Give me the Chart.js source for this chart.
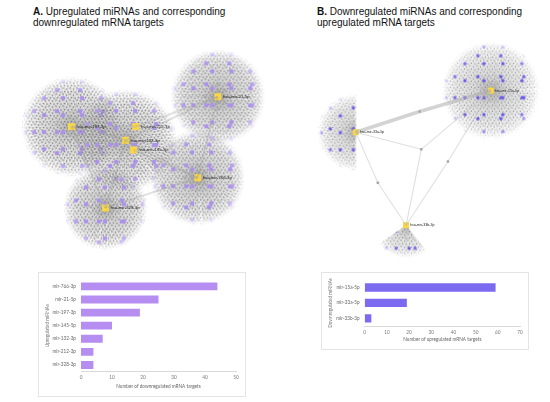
<!DOCTYPE html>
<html>
<head>
<meta charset="utf-8">
<script src="https://cdn.jsdelivr.net/npm/chart.js@4.4.1/dist/chart.umd.min.js"></script>
<style>
  body { margin: 0; width: 550px; height: 402px; background: #fff; position: relative; overflow: hidden; font-family: "Liberation Sans", Arial, sans-serif; }
  .title { position: absolute; font-size: 10px; line-height: 11px; color: #111; white-space: nowrap; }
  .box { position: absolute; border: 1px solid #e4e4e4; box-sizing: border-box; }
  canvas { position: absolute; }
</style>
</head>
<body>

<div class="title" style="left:33px;top:6px"><b>A.</b> Upregulated miRNAs and corresponding<br>downregulated mRNA targets</div>
<div class="title" style="left:317px;top:6px"><b>B.</b> Downregulated miRNAs and corresponding<br>upregulated mRNA targets</div>

<canvas id="netA" width="275" height="225" style="left:0;top:35px"></canvas>
<canvas id="netB" width="275" height="230" style="left:275px;top:35px"></canvas>

<div class="box" style="left:38px;top:272px;width:208px;height:125px"></div>
<canvas id="barA" width="208" height="125" style="left:38px;top:272px"></canvas>

<div class="box" style="left:321px;top:272px;width:208px;height:78px"></div>
<canvas id="barB" width="208" height="78" style="left:321px;top:272px"></canvas>

<script>
// ---- bar chart data ----
const upMirnas = ['mir-766-3p', 'mir-21-5p', 'mir-197-3p', 'mir-145-5p', 'mir-132-3p', 'mir-212-3p', 'mir-328-3p'];
const downTargetCounts = [44, 25, 19, 10, 7, 4, 4];
const downMirnas = ['mir-15a-5p', 'mir-33a-5p', 'mir-33b-3p'];
const upTargetCounts = [59, 19, 3];

// ---- network layout A (layout units 0-100) ----
const hubNamesA = ['hsa-mir-21-5p', 'hsa-mir-197-3p', 'hsa-mir-212-3p', 'hsa-mir-132-3p', 'hsa-mir-145-5p', 'hsa-mir-766-3p', 'hsa-mir-328-3p'];
const hubXA = [80.3, 25.1, 49.3, 45.5, 48.5, 72.7, 37.9];
const hubYA = [26.4, 40.3, 40.3, 46.7, 51.1, 64.1, 78.1];
const cloudSpreadA = [17.5, 18.5, 0, 19, 0, 17.5, 15.5];
const edgesA = [[1, 3], [1, 2], [0, 2], [0, 3], [3, 5], [4, 5], [6, 3], [6, 5], [0, 5], [1, 6]];

// ---- network layout B ----
const hubNamesB = ['hsa-mir-15a-5p', 'hsa-mir-33a-5p', 'hsa-mir-33b-3p'];
const hubXB = [79.4, 28.7, 47.6];
const hubYB = [23.2, 42.0, 84.0];
const cloudSpreadB = [18, 14, 12];
const cloudFromB = [0, 90, 52];
const cloudToB = [360, 270, 145];
const sharedXB = [53.3, 52.7, 37.0, 63.3];
const sharedYB = [49.7, 32.6, 64.8, 55.2];
const sharedLinksB = [[0, 1, 2], [1, 0], [1, 2], [2, 0]];

function tilePattern(ctx, w, h, dots, color, rad) {
    const c = document.createElement('canvas');
    c.width = w; c.height = h;
    const g = c.getContext('2d');
    g.fillStyle = color;
    dots.forEach(([dx, dy]) => { g.beginPath(); g.arc(dx, dy, rad, 0, Math.PI * 2); g.fill(); });
    return ctx.createPattern(c, 'repeat');
}

// draws the target clouds round each hub, faded at the rim
const cloudPlugin = {
    id: 'clouds',
    beforeDatasetsDraw(chart, args, opts) {
        const { ctx, scales: { x, y } } = chart;
        opts.cx.forEach((hx, i) => {
            if (!opts.r[i]) return;
            const cx = x.getPixelForValue(hx), cy = y.getPixelForValue(opts.cy[i]);
            const r = x.getPixelForValue(hx + opts.r[i]) - cx;
            const a0 = (opts.from ? opts.from[i] : 0) * Math.PI / 180;
            const a1 = (opts.to ? opts.to[i] : 360) * Math.PI / 180;
            const size = Math.ceil(2 * r) + 4, o = size / 2;
            const off = document.createElement('canvas');
            off.width = off.height = size;
            const g = off.getContext('2d');
            g.beginPath();
            if (a1 - a0 >= Math.PI * 2) g.arc(o, o, r, 0, Math.PI * 2);
            else { g.moveTo(o, o); g.arc(o, o, r, a0, a1); g.closePath(); }
            g.clip();
            // spokes
            const cg = g.createConicGradient(0.3 * i, o, o);
            for (let k = 0; k < 80; k++) {
                cg.addColorStop(k / 80, opts.spoke);
                cg.addColorStop((k + 0.35) / 80, 'rgba(150,150,150,0)');
            }
            g.fillStyle = cg;
            g.fillRect(0, 0, size, size);
            const rg = g.createRadialGradient(o, o, 0, o, o, r);
            rg.addColorStop(0, 'rgba(125,125,125,0.6)');
            rg.addColorStop(0.35, 'rgba(160,160,160,0.3)');
            rg.addColorStop(1, 'rgba(200,200,200,0.06)');
            g.fillStyle = rg;
            g.fillRect(0, 0, size, size);
            g.fillStyle = tilePattern(g, 7, 6, [[1, 1], [4.5, 2], [2.5, 4.5], [6, 5]], opts.dotColor, opts.dotSize);
            g.fillRect(0, 0, size, size);
            g.fillStyle = tilePattern(g, 19, 17, [[5, 6]], opts.purple, opts.purpleSize);
            g.fillRect(0, 0, size, size);
            g.fillStyle = tilePattern(g, 23, 21, [[14, 15]], opts.purple, opts.purpleSize);
            g.fillRect(0, 0, size, size);
            // soft rim
            g.globalCompositeOperation = 'destination-in';
            const m = g.createRadialGradient(o, o, 0, o, o, r);
            m.addColorStop(0, 'rgba(0,0,0,1)');
            m.addColorStop(0.72, 'rgba(0,0,0,1)');
            m.addColorStop(0.9, 'rgba(0,0,0,0.65)');
            m.addColorStop(1, 'rgba(0,0,0,0)');
            g.fillStyle = m;
            g.fillRect(0, 0, size, size);
            ctx.drawImage(off, cx - o, cy - o);
        });
    }
};

// hub name labels
const hubLabelPlugin = {
    id: 'hubLabels',
    afterDatasetsDraw(chart, args, opts) {
        const { ctx, scales: { x, y } } = chart;
        ctx.save();
        ctx.font = opts.size + 'px "Liberation Sans", Arial, sans-serif';
        ctx.fillStyle = '#222';
        ctx.textBaseline = 'middle';
        opts.names.forEach((n, i) => {
            ctx.fillText(n, x.getPixelForValue(opts.hx[i]) + opts.gap, y.getPixelForValue(opts.hy[i]));
        });
        ctx.restore();
    }
};

function netOptions(extra) {
    return {
        responsive: false,
        animation: false,
        layout: { padding: 0 },
        scales: {
            x: { display: false, min: 0, max: 100 },
            y: { display: false, min: 0, max: 100, reverse: true }
        },
        plugins: Object.assign({ legend: { display: false }, tooltip: { enabled: false } }, extra)
    };
}

function lineSet(pts, color, width) {
    return { type: 'scatter', data: pts, showLine: true, borderColor: color, borderWidth: width, pointRadius: 0 };
}

// ---- network A ----
const netADatasets = edgesA.map(([a, b]) => lineSet(
    [{ x: hubXA[a], y: hubYA[a] }, { x: hubXA[b], y: hubYA[b] }], 'rgba(160,160,160,0.3)', 2));
netADatasets.push({
    data: hubXA.map((v, i) => ({ x: v, y: hubYA[i] })),
    pointStyle: 'rect', pointRadius: 5, backgroundColor: '#f8d647', borderWidth: 0
});
new Chart(document.getElementById('netA'), {
    type: 'scatter',
    data: { datasets: netADatasets },
    options: netOptions({
        clouds: { cx: hubXA, cy: hubYA, r: cloudSpreadA, spoke: 'rgba(145,145,145,0.4)', dotColor: 'rgba(100,100,100,0.8)', dotSize: 0.8, purple: '#ad92eb', purpleSize: 2.3 },
        hubLabels: { names: hubNamesA, hx: hubXA, hy: hubYA, size: 4.3, gap: 5 }
    }),
    plugins: [cloudPlugin, hubLabelPlugin]
});

// ---- network B ----
const netBDatasets = [];
sharedLinksB.forEach((hubs, s) => {
    hubs.forEach(h => {
        const thick = (s === 1);
        netBDatasets.push(lineSet([{ x: hubXB[h], y: hubYB[h] }, { x: sharedXB[s], y: sharedYB[s] }],
            thick ? 'rgba(175,175,175,0.55)' : 'rgba(185,185,185,0.45)', thick ? 3.5 : 1.1));
    });
});
netBDatasets.push({
    data: sharedXB.map((v, i) => ({ x: v, y: sharedYB[i] })),
    pointStyle: 'rectRounded', pointRadius: 1.5, backgroundColor: '#a0a0a0', borderWidth: 0
});
netBDatasets.push({
    data: hubXB.map((v, i) => ({ x: v, y: hubYB[i] })),
    pointStyle: 'rect', pointRadius: 4.3, backgroundColor: '#f8d647', borderWidth: 0
});
new Chart(document.getElementById('netB'), {
    type: 'scatter',
    data: { datasets: netBDatasets },
    options: netOptions({
        clouds: { cx: hubXB, cy: hubYB, r: cloudSpreadB, from: cloudFromB, to: cloudToB, spoke: 'rgba(160,160,160,0.3)', dotColor: 'rgba(70,70,70,0.75)', dotSize: 0.55, purple: '#6a5ae8', purpleSize: 1.7 },
        hubLabels: { names: hubNamesB, hx: hubXB, hy: hubYB, size: 3.6, gap: 4 }
    }),
    plugins: [hubLabelPlugin, cloudPlugin]
});

// ---- bar charts ----
function makeBar(id, labels, values, color, max, yTitle, xTitle, dims) {
    const font = { family: 'Lato, "Liberation Sans", sans-serif', size: 4.7 };
    new Chart(document.getElementById(id), {
        type: 'bar',
        data: {
            labels,
            datasets: [{ data: values, backgroundColor: color, borderWidth: 0, barPercentage: dims.bar, categoryPercentage: 1 }]
        },
        options: {
            indexAxis: 'y',
            responsive: false,
            animation: false,
            layout: { padding: { top: dims.top, right: dims.right, left: 0, bottom: 0 } },
            scales: {
                x: {
                    min: 0, max,
                    ticks: { stepSize: 10, color: '#777', font, padding: 3.5 },
                    grid: { display: false, drawTicks: false },
                    border: { display: true, color: '#d9d9d9' },
                    title: { display: true, text: xTitle, color: '#666', font, padding: { top: 0, bottom: 7.5 } },
                    afterFit(scale) { scale.height = dims.xh; }
                },
                y: {
                    ticks: { color: '#666', font, padding: 5 },
                    grid: { display: false, drawTicks: false },
                    border: { display: false },
                    title: { display: true, text: yTitle, color: '#777', font, padding: { top: 7, bottom: 0 } },
                    afterFit(scale) { scale.width = dims.yw; }
                }
            },
            plugins: { legend: { display: false }, tooltip: { enabled: false } }
        }
    });
}

makeBar('barA', upMirnas, downTargetCounts, '#b68df1', 50, 'Upregulated miRNAs', 'Number of downregulated mRNA targets',
    { top: 6.5, right: 10, xh: 25.5, yw: 43, bar: 0.6 });
makeBar('barB', downMirnas, upTargetCounts, '#7c6bf0', 70, 'Downregulated miRNAs', 'Number of upregulated mRNA targets',
    { top: 6, right: 9, xh: 24, yw: 43.7, bar: 0.54 });
</script>
</body>
</html>
